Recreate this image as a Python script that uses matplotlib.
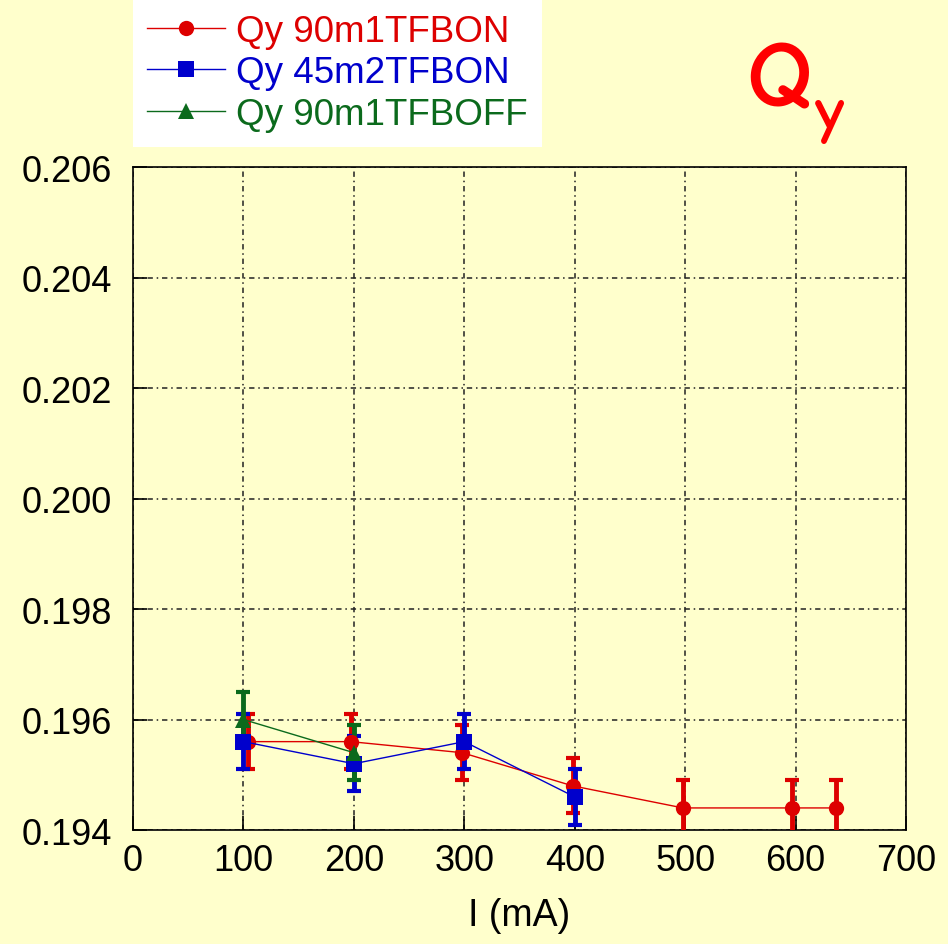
import matplotlib.pyplot as plt
import numpy as np

plt.rcParams["font.family"] = ["Liberation Sans", "DejaVu Sans"]

# beam tune vs current
x_90on = [104, 197, 298, 398, 498, 597, 637]
qy_90on = [0.1956, 0.1956, 0.1954, 0.1948, 0.1944, 0.1944, 0.1944]
err_90on = [0.0005, 0.0005, 0.0005, 0.0005, 0.0005, 0.0005, 0.0005]

x_45on = [100, 200, 300, 400]
qy_45on = [0.1956, 0.1952, 0.1956, 0.1946]
err_45on = [0.0005, 0.0005, 0.0005, 0.0005]

x_90off = [100, 200]
qy_90off = [0.1960, 0.1954]
err_90off = [0.0005, 0.0005]

labels = ["Qy 90m1TFBON", "Qy 45m2TFBON", "Qy 90m1TFBOFF"]
colors = ["#dd0000", "#0000cc", "#0b6a1c"]
markers = ["o", "s", "^"]

bg = "#ffffcc"
fig = plt.figure(figsize=(9.48, 9.45), dpi=100, facecolor=bg)
ax = fig.add_axes([0.1403, 0.1206, 0.8154, 0.7016], facecolor=bg)

series = [(x_90on, qy_90on, err_90on), (x_45on, qy_45on, err_45on),
          (x_90off, qy_90off, err_90off)]
handles = []
for (xs, ys, es), lab, c, m in zip(series, labels, colors, markers):
    ax.errorbar(xs, ys, yerr=es, fmt="none", ecolor=c, elinewidth=3.5,
                capsize=5, capthick=3, zorder=3)
    h, = ax.plot(xs, ys, color=c, lw=1, marker=m, markersize=11,
                 markeredgewidth=0, label=lab, zorder=4)
    handles.append(h)

ax.set_xlim(0, 700)
ax.set_ylim(0.194, 0.206)
ax.set_xticks(np.arange(0, 701, 100))
ax.set_yticks(np.arange(0.194, 0.2061, 0.002))
ax.set_yticklabels(["%.3f" % v for v in np.arange(0.194, 0.2061, 0.002)])
ax.tick_params(axis="both", direction="in", length=10, width=1.2,
               labelsize=26, top=False, right=False)
ax.tick_params(axis="y", pad=15)
ax.tick_params(axis="x", pad=9)
ax.grid(True, color="#222222", linestyle=(0, (3.5, 2.5, 1, 2.5)),
        linewidth=1.1)
for s in ax.spines.values():
    s.set_linewidth(1.2)
ax.set_xlabel("I (mA)", fontsize=27, labelpad=14)

leg = fig.legend(handles=handles, loc="upper left",
                 bbox_to_anchor=(0.14, 1.0), fontsize=26.5, frameon=True,
                 fancybox=False, edgecolor="none", facecolor="white",
                 framealpha=1, handlelength=2.1, handletextpad=0.3,
                 labelspacing=0.18, borderpad=0.4, borderaxespad=0)
for t, c in zip(leg.get_texts(), colors):
    t.set_color(c)

fig.text(0.787, 0.887, "Q", color="#ff0000", fontsize=68, fontweight="bold",
         family=["Comic Neue", "DejaVu Sans"], ha="left", va="baseline")
fig.text(0.86, 0.86, "y", color="#ff0000", fontsize=46, fontweight="bold",
         family=["Comic Neue", "DejaVu Sans"], ha="left", va="baseline")

fig.savefig("out.png", dpi=100, facecolor=bg)
